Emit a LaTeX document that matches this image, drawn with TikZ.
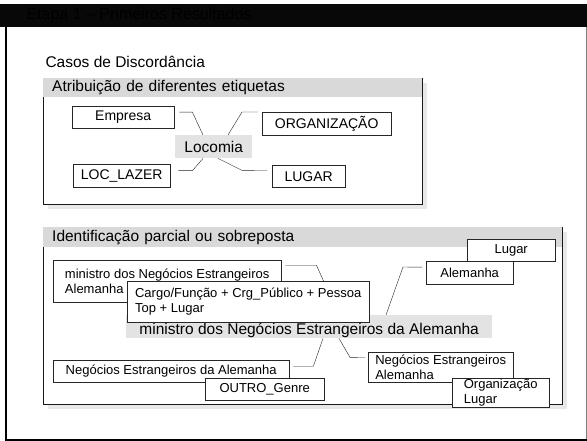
\documentclass[tikz,border=0pt]{standalone}
\usepackage{fontspec}
\setmainfont{Liberation Sans}
\usetikzlibrary{calc}

\tikzstyle{tag} = [rectangle, draw=black!85, fill=white, inner sep=0pt, text centered, font=\fontsize{14}{16}\selectfont]
\tikzstyle{tagsm} = [tag, font=\fontsize{13}{15}\selectfont]
\tikzstyle{tagleft} = [tagsm, align=left]
\tikzstyle{focus} = [rectangle, fill=black!11, inner sep=0pt, font=\fontsize{15.5}{18}\selectfont]
\tikzstyle{band} = [rectangle, fill=black!15, inner sep=0pt, inner xsep=9pt, align=left, anchor=north west, font=\fontsize{15.5}{18}\selectfont]
\tikzstyle{group} = [rectangle, fill=white, inner sep=0pt, anchor=north west]
\tikzstyle{frame} = [line width=1pt, black!90]
\tikzstyle{shade} = [fill=black!9]
\tikzstyle{link} = [thin, black!85]

\begin{document}
\begin{tikzpicture}[x=1pt, y=-1pt]
    \useasboundingbox (0,0) rectangle (587,441);
    % slide frame
    \node (bar) [fill=black!97, anchor=north west, minimum width=587pt, minimum height=23pt, inner sep=0pt] at (0,4) {};
    \node (title) [anchor=west, text=black, font=\fontsize{16}{19}\selectfont] at (23,15.5) {Etapa 1 – Primeiros Resultados};
    \draw [line width=2pt] (bar.south west -| 5.5,0) -- (5.5,439.5) -- (587,439.5);
    \draw [black!50] (bar.south east -| 586,0) -- (586,439);
    \node (casos) [anchor=west, font=\fontsize{15.5}{18}\selectfont] at (42,62) {Casos de Discordância};

    % group 1
    \fill [shade] (48,83) rectangle (427,209);
    \node (grpA) [group, minimum width=379pt, minimum height=126pt] at (43,78) {};
    \node (hdrA) [band, text width=361pt, minimum height=19pt] at (grpA.north west) {Atribuição de diferentes etiquetas};
    \draw [frame] (hdrA.south west) -- (grpA.south west) -- (grpA.south east) -- (grpA.north east);

    \node (loco) [focus, anchor=north west, minimum width=77pt, minimum height=23pt] at (175,135) {Locomia};
    \node (emp) [tag, anchor=north west, minimum width=102pt, minimum height=22pt] at (72,106) {Empresa};
    \node (org) [tag, anchor=north west, minimum width=129pt, minimum height=23pt] at (262,112) {ORGANIZAÇÃO};
    \node (loclazer) [tag, anchor=north west, minimum width=97pt, minimum height=23pt] at (73,164) {LOC\_LAZER};
    \node (lugar) [tag, anchor=north west, minimum width=73pt, minimum height=22pt] at (272,165) {LUGAR};
    \draw [link] ($(emp.east)+(5,-5)$) -- ++(13,0) -- ($(loco.north west)+(28,0)$);
    \draw [link] ($(loco.north west)+(53,0)$) -- ++(14,-23) -- ($(org.north west)+(-4,0)$);
    \draw [link] ($(loclazer.east)+(8,-5)$) -- ++(14,0) -- ($(loco.south west)+(28,0)$);
    \draw [link] ($(loco.south west)+(43,0)$) -- ++(24,12) -- ($(lugar.west)+(-5,-6)$);

    % group 2
    \fill [shade] (48,232) rectangle (567,409);
    \node (grpB) [group, minimum width=519pt, minimum height=177pt] at (43,227) {};
    \node (hdrB) [band, text width=501pt, minimum height=20pt] at (grpB.north west) {Identificação parcial ou sobreposta};
    \draw [frame] (hdrB.south west) -- (grpB.south west) -- (grpB.south east) -- (grpB.north east);

    \node (mainn) [focus, anchor=north west, minimum width=366pt, text height=18.5pt, text depth=3pt, inner ysep=0.75pt] at (126,315) {ministro dos Negócios Estrangeiros da Alemanha};
    \node (min1) [tagleft, anchor=north west, minimum width=228pt, minimum height=42pt] at (53,260) {ministro dos Negócios Estrangeiros\\Alemanha};
    \draw [link] ($(min1.east)+(4,-16)$) -- ++(31,0) -- ($(mainn.north west)+(213,0)$);
    \node (cargo) [tagleft, anchor=north west, minimum width=242pt, minimum height=41pt] at (127,281) {Cargo/Função + Crg\_Público + Pessoa\\Top + Lugar};

    \node (alem) [tagsm, anchor=north west, minimum width=87pt, minimum height=23pt] at (426,261) {Alemanha};
    \node (lugar2) [tagsm, anchor=north west, minimum width=88pt, minimum height=22pt] at (467,239) {Lugar};
    \draw [link] ($(mainn.north west)+(260,0)$) -- ++(17,-48) -- ($(alem.west)+(-4,-5.5)$);

    \node (nea) [tagleft, anchor=north west, minimum width=236pt, minimum height=22pt] at (53,360) {Negócios Estrangeiros da Alemanha};
    \node (outro) [tagsm, anchor=north west, minimum width=119pt, minimum height=22pt] at (205,378) {OUTRO\_Genre};
    \draw [link] ($(nea.east)+(4,-5)$) -- ++(20,0) -- ($(mainn.south west)+(197,0)$);

    \node (neg2) [tagleft, anchor=north west, minimum width=145pt, minimum height=30pt] at (368,352) {Negócios Estrangeiros\\Alemanha};
    \node (orgl) [tagleft, anchor=north west, minimum width=97pt, minimum height=29pt] at (452,378) {Organização\\Lugar};
    \draw [link] ($(mainn.south west)+(213,0)$) -- ++(11,19) -- ($(neg2.west)+(-3,-10)$);
\end{tikzpicture}
\end{document}
